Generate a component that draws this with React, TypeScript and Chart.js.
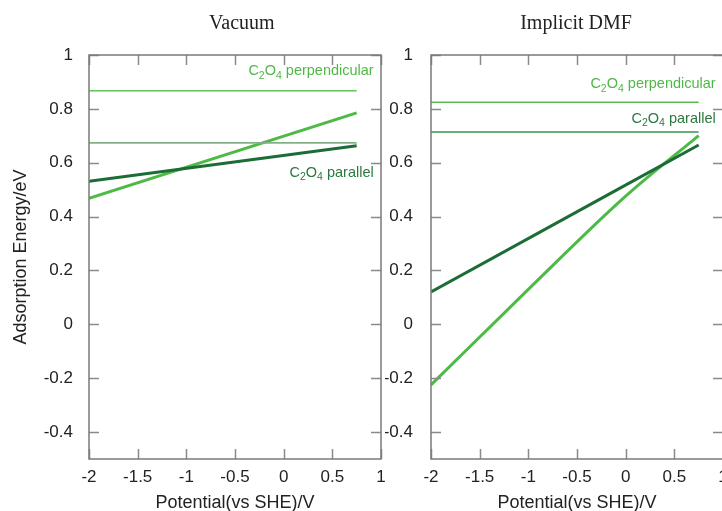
import React, { useEffect, useRef } from "react";
import { Chart, registerables } from "chart.js";

Chart.register(...registerables);

// ---------- data ----------
const potentials = [-2, 0.75];
const potentialsCurve = [-2, -1, 0, 0.75];

const vacuumParallel = [0.531, 0.663];
const vacuumPerpendicular = [0.468, 0.785];
const vacuumPerpLevel = [0.867, 0.867];
const vacuumParLevel = [0.674, 0.674];

const dmfParallel = [0.12, 0.666];
const dmfPerpendicular = [-0.225, 0.13, 0.476, 0.701];
const dmfPerpLevel = [0.825, 0.825];
const dmfParLevel = [0.714, 0.714];

const xTicks = [-2, -1.5, -1, -0.5, 0, 0.5, 1];
const yTicks = [-0.4, -0.2, 0, 0.2, 0.4, 0.6, 0.8, 1];

const panelTitles = ["Vacuum", "Implicit DMF"];
const seriesNames = ["perpendicular", "parallel"];

// ---------- styles ----------
const SANS = "'Liberation Sans', Arial, sans-serif";
const SERIF = "'Liberation Serif', 'Times New Roman', serif";
const DARK = "#1c6c36";
const LIGHT = "#4dba45";
const LIGHT_TXT = "#4fb847";
const DARK_TXT = "#2a7a3e";

const mk = (xs: number[], ys: number[], color: string, width: number) => ({
  data: xs.map((x, i) => ({ x, y: ys[i] })),
  borderColor: color,
  borderWidth: width,
  pointRadius: 0,
  pointHoverRadius: 0,
  fill: false,
  tension: 0,
  cubicInterpolationMode: "monotone" as const,
});

function drawChem(ctx: CanvasRenderingContext2D, rest: string, xRight: number, yMid: number, color: string) {
  const big = `14.5px ${SANS}`;
  const small = `10.5px ${SANS}`;
  const parts: [string, string, number][] = [
    ["C", big, 0],
    ["2", small, 3.5],
    ["O", big, 0],
    ["4", small, 3.5],
    [" " + rest, big, 0],
  ];
  let total = 0;
  const widths = parts.map(([t, f]) => {
    ctx.font = f;
    const w = ctx.measureText(t).width;
    total += w;
    return w;
  });
  let x = xRight - total;
  const base = yMid + 5;
  ctx.fillStyle = color;
  ctx.textAlign = "left";
  ctx.textBaseline = "alphabetic";
  parts.forEach(([t, f, dy], i) => {
    ctx.font = f;
    ctx.fillText(t, x, base + dy);
    x += widths[i];
  });
}

const framePlugin = {
  id: "frame",
  afterDatasetsDraw(chart: any, _args: any, opts: any) {
    const ctx: CanvasRenderingContext2D = chart.ctx;
    const { left, right, top, bottom } = chart.chartArea;
    const xs = chart.scales.x;
    const ys = chart.scales.y;
    ctx.save();
    // inward ticks
    ctx.strokeStyle = "#8a8a8a";
    ctx.lineWidth = 1.5;
    ctx.beginPath();
    xTicks.forEach((v) => {
      const px = Math.round(xs.getPixelForValue(v)) + 0.5;
      ctx.moveTo(px, bottom);
      ctx.lineTo(px, bottom - 10);
      ctx.moveTo(px, top);
      ctx.lineTo(px, top + 10);
    });
    yTicks.forEach((v) => {
      const py = Math.round(ys.getPixelForValue(v)) + 0.5;
      ctx.moveTo(left, py);
      ctx.lineTo(left + 10, py);
      ctx.moveTo(right, py);
      ctx.lineTo(right - 10, py);
    });
    ctx.stroke();
    // frame
    ctx.strokeStyle = "#7a7a7a";
    ctx.lineWidth = 1.5;
    ctx.strokeRect(left, top, right - left, bottom - top);
    // title
    ctx.fillStyle = "#222";
    ctx.font = `20px ${SERIF}`;
    ctx.textAlign = "center";
    ctx.textBaseline = "middle";
    ctx.fillText(opts.title, xs.getPixelForValue(opts.titleX), 23.5);
    // series labels
    (opts.labels || []).forEach((l: any) => {
      drawChem(ctx, l.text, xs.getPixelForValue(l.x), ys.getPixelForValue(l.y), l.color);
    });
    ctx.restore();
  },
};

type PanelProps = {
  left: number;
  width: number;
  yWidth: number;
  padRight: number;
  showYTitle: boolean;
  title: string;
  titleX: number;
  datasets: any[];
  labels: any[];
};

function Panel(p: PanelProps) {
  const ref = useRef<HTMLCanvasElement>(null);
  useEffect(() => {
    const tickFont = { family: SANS, size: 17 };
    const chart = new Chart(ref.current!, {
      type: "line",
      data: { datasets: p.datasets },
      options: {
        responsive: false,
        animation: false,
        devicePixelRatio: 1,
        layout: { padding: { top: 55, right: p.padRight, left: 0, bottom: 0 } },
        plugins: {
          legend: { display: false },
          tooltip: { enabled: false },
          title: { display: false },
          frame: { title: p.title, titleX: p.titleX, labels: p.labels },
        } as any,
        scales: {
          x: {
            type: "linear",
            min: -2,
            max: 1,
            afterFit: (s: any) => {
              s.height = 52;
            },
            afterBuildTicks: (s: any) => {
              s.ticks = xTicks.map((v) => ({ value: v }));
            },
            ticks: {
              callback: (v: any) => String(v),
              font: tickFont,
              color: "#222",
              padding: 8,
              maxRotation: 0,
              autoSkip: false,
            },
            grid: { display: false, drawTicks: false },
            border: { display: false },
            title: {
              display: true,
              text: "Potential(vs SHE)/V",
              font: { family: SANS, size: 18 },
              color: "#222",
              padding: { top: 0, bottom: -3 },
            },
          },
          y: {
            type: "linear",
            min: -0.5,
            max: 1,
            afterFit: (s: any) => {
              s.width = p.yWidth;
            },
            afterBuildTicks: (s: any) => {
              s.ticks = yTicks.map((v) => ({ value: v }));
            },
            ticks: {
              callback: (v: any) => String(Math.round(Number(v) * 10) / 10),
              font: tickFont,
              color: "#222",
              padding: p.showYTitle ? 16 : 18,
              autoSkip: false,
            },
            grid: { display: false, drawTicks: false },
            border: { display: false },
            title: {
              display: p.showYTitle,
              text: "Adsorption Energy/eV",
              font: { family: SANS, size: 18 },
              color: "#222",
              padding: { top: 10, bottom: 0 },
            },
          },
        },
      },
      plugins: [framePlugin],
    } as any);
    return () => chart.destroy();
  }, []);
  return (
    <canvas
      ref={ref}
      width={p.width}
      height={511}
      style={{ position: "absolute", left: p.left, top: 0, width: p.width, height: 511 }}
    />
  );
}

export default function App() {
  const vacuumSets = [
    mk(potentials, vacuumPerpLevel, "#62c05e", 1.5),
    mk(potentials, vacuumParLevel, "#84b088", 1.8),
    mk(potentials, vacuumParallel, DARK, 3),
    mk(potentials, vacuumPerpendicular, LIGHT, 3),
  ];
  const dmfSets = [
    mk(potentials, dmfPerpLevel, "#58bc52", 1.5),
    mk(potentials, dmfParLevel, "#3a9450", 1.5),
    mk(potentials, dmfParallel, DARK, 3),
    mk(potentialsCurve, dmfPerpendicular, LIGHT, 3),
  ];
  const vacuumLabels = [
    { text: seriesNames[0], x: 0.925, y: 0.944, color: LIGHT_TXT },
    { text: seriesNames[1], x: 0.925, y: 0.567, color: DARK_TXT },
  ];
  const dmfLabels = [
    { text: seriesNames[0], x: 0.925, y: 0.896, color: LIGHT_TXT },
    { text: seriesNames[1], x: 0.925, y: 0.767, color: DARK_TXT },
  ];
  return (
    <div
      style={{
        position: "fixed",
        left: 0,
        top: 0,
        width: 722,
        height: 511,
        overflow: "hidden",
        background: "#fff",
      }}
    >
      <Panel
        left={0}
        width={400}
        yWidth={89}
        padRight={19}
        showYTitle={true}
        title={panelTitles[0]}
        titleX={-0.43}
        datasets={vacuumSets}
        labels={vacuumLabels}
      />
      <Panel
        left={385}
        width={375}
        yWidth={46}
        padRight={37}
        showYTitle={false}
        title={panelTitles[1]}
        titleX={-0.51}
        datasets={dmfSets}
        labels={dmfLabels}
      />
    </div>
  );
}
